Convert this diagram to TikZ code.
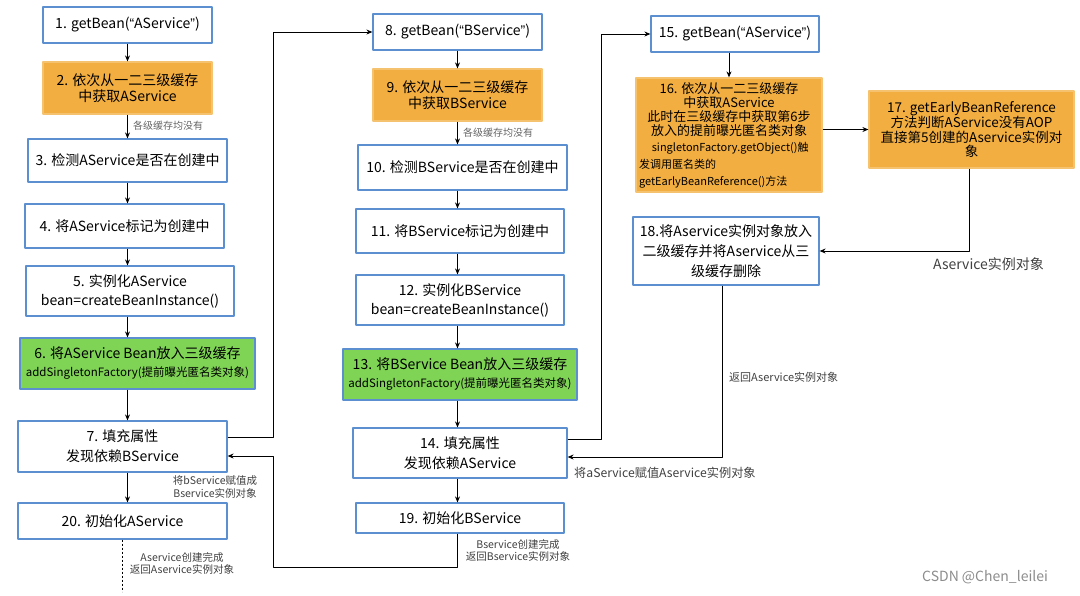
\documentclass[tikz,border=0pt]{standalone}
\usepackage{fontspec}
\setmainfont{Noto Sans CJK SC}
\newfontfamily\quotefont{Liberation Sans}
\newcommand{\qopen}{{\quotefont “}}
\newcommand{\qclose}{{\quotefont ”}}
\usetikzlibrary{arrows.meta}
\definecolor{boxblue}{HTML}{5B8FCF}
\definecolor{cacheorange}{HTML}{F2AE40}
\definecolor{beangreen}{HTML}{7FD355}
\begin{document}
\begin{tikzpicture}[x=1pt, y=-1pt, line join=round, >={Stealth[length=6pt,width=5pt]},
	font=\fontsize{14}{18}\selectfont,
	box/.style={draw=boxblue, line width=1.2pt, fill=white, align=center, inner sep=1pt},
	obox/.style={box, draw=cacheorange!75!white, fill=cacheorange},
	gbox/.style={box, fill=beangreen},
	lbl/.style={font=\fontsize{10}{12}\selectfont, text=black!75, align=center, inner sep=0pt},
	link/.style={line width=1pt}]
	
	\useasboundingbox (0,0) rectangle (1080,595);
	
	% getBean("AService")
	\node[box, minimum width=169pt, minimum height=36pt] (n1) at (127.5,25) {1. getBean(\qopen AService\qclose)};
	\node[obox, minimum width=169pt, minimum height=52pt, font=\fontsize{14}{16}\selectfont] (n2) at (127.5,88) {2. 依次从一二三级缓存\\中获取AService};
	\node[box, minimum width=199pt, minimum height=43pt] (n3) at (127.5,160.5) {3. 检测AService是否在创建中};
	\node[box, minimum width=199pt, minimum height=44pt] (n4) at (124.5,226) {4. 将AService标记为创建中};
	\node[box, minimum width=208pt, minimum height=50pt, font=\fontsize{14}{19}\selectfont] (n5) at (130,291) {5. 实例化AService\\bean=createBeanInstance()};
	\node[gbox, minimum width=235pt, minimum height=51pt] (n6) at (137.5,363.5) {6. 将AService Bean放入三级缓存\\{\fontsize{11.5}{14}\selectfont addSingletonFactory(提前曝光匿名类对象)}};
	\node[box, minimum width=209pt, minimum height=51pt, font=\fontsize{14}{20}\selectfont] (n7) at (122.5,446.5) {7. 填充属性\\发现依赖BService};
	\node[box, minimum width=209pt, minimum height=36pt] (n20) at (122.5,521) {20. 初始化AService};
	
	% getBean("BService")
	\node[box, minimum width=169pt, minimum height=36pt] (n8) at (457.5,32) {8. getBean(\qopen BService\qclose)};
	\node[obox, minimum width=169pt, minimum height=52pt, font=\fontsize{14}{16}\selectfont] (n9) at (457.5,95) {9. 依次从一二三级缓存\\中获取BService};
	\node[box, minimum width=209pt, minimum height=45pt] (n10) at (462.5,167.5) {10. 检测BService是否在创建中};
	\node[box, minimum width=208pt, minimum height=44pt] (n11) at (460,231) {11. 将BService标记为创建中};
	\node[box, minimum width=208pt, minimum height=50pt, font=\fontsize{14}{19}\selectfont] (n12) at (460,300) {12. 实例化BService\\bean=createBeanInstance()};
	\node[gbox, minimum width=234pt, minimum height=51pt] (n13) at (460,374.5) {13. 将BService Bean放入三级缓存\\{\fontsize{11.5}{14}\selectfont addSingletonFactory(提前曝光匿名类对象)}};
	\node[box, minimum width=214pt, minimum height=50pt, font=\fontsize{14}{20}\selectfont] (n14) at (460,453) {14. 填充属性\\发现依赖AService};
	\node[box, minimum width=208pt, minimum height=30pt] (n19) at (460,518) {19. 初始化BService};
	
	% getBean("AService") again
	\node[box, minimum width=168pt, minimum height=36pt] (n15) at (735,34) {15. getBean(\qopen AService\qclose)};
	\node[obox, minimum width=186pt, minimum height=114pt, font=\fontsize{13}{14}\selectfont] (n16) at (729,135) {16. 依次从一二三级缓存\\中获取AService\\此时在三级缓存中获取第6步\\放入的提前曝光匿名类对象\\[2pt]
		{\fontsize{11}{14}\selectfont\ singletonFactory.getObject()触}\\[3pt]
		\makebox[180pt][l]{\fontsize{11}{14}\selectfont 发调用匿名类的}\\[3pt]
		\makebox[180pt][l]{\fontsize{11}{14}\selectfont getEarlyBeanReference()方法}};
	\node[obox, minimum width=205pt, minimum height=77pt, font=\fontsize{13.5}{14.5}\selectfont] (n17) at (971.5,129.5) {17. getEarlyBeanReference\\方法判断AService没有AOP\\直接第5创建的Aservice实例对\\象};
	\node[box, minimum width=186pt, minimum height=68pt, font=\fontsize{14}{20}\selectfont] (n18) at (726,251) {18.将Aservice实例对象放入\\二级缓存并将Aservice从三\\级缓存删除};
	
	% straight steps
	\foreach \a/\b in {n1/n2, n2/n3, n3/n4, n4/n5, n5/n6, n6/n7, n7/n20}
	\draw[link, ->] (\a.south -| n1) -- (\b.north -| n1);
	\foreach \a/\b in {n8/n9, n9/n10, n10/n11, n11/n12, n12/n13, n13/n14, n14/n19}
	\draw[link, ->] (\a.south -| n8) -- (\b.north -| n8);
	\draw[link, ->] (n15.south -| n16) -- (n16.north);
	
	% jumps between the columns
	\draw[link, ->] ([yshift=9.5pt]n7.east) -- ++(46,0) |- (n8.west);
	\draw[link, ->] ([yshift=14pt]n14.east) -- ++(34,0) |- (n15.west);
	\draw[link, ->] (n16.east |- n17) -- (n17.west);
	\draw[link, ->] ([xshift=-2.5pt]n17.south) |- (n18.east);
	\draw[link, ->] ([xshift=-4pt]n18.south) |- ([yshift=-4pt]n14.east);
	\coordinate (bback) at (273,567);
	\draw[link, ->] ([xshift=-3pt]n19.south) |- (bback) |- ([yshift=-9.5pt]n7.east);
	\draw[link, dashed, dash pattern=on 2pt off 2pt] (n20.south) -- ([yshift=-52pt]n20.south);
	
	% labels
	\node[lbl, anchor=west, text=black!60] (l1) at (133,126) {各级缓存均没有};
	\node[lbl, anchor=west, text=black!60] (l2) at (463,133) {各级缓存均没有};
	\node[lbl, font=\fontsize{10.5}{13}\selectfont] (l3) at (215,487) {将bService赋值成\\Bservice实例对象};
	\node[lbl, font=\fontsize{10.5}{12}\selectfont] (l4) at (182,563) {Aservice创建完成\\返回Aservice实例对象};
	\node[lbl, font=\fontsize{10.5}{12}\selectfont] (l5) at (518,550) {Bservice创建完成\\返回Bservice实例对象};
	\node[lbl, anchor=west, font=\fontsize{11}{13}\selectfont] (l6) at (729,377) {返回Aservice实例对象};
	\node[lbl, anchor=west, font=\fontsize{12.2}{14}\selectfont] (l7) at (574,473) {将aService赋值Aservice实例对象};
	\node[lbl, anchor=west, font=\fontsize{14}{16}\selectfont] (l8) at (933,264) {Aservice实例对象};
	\node[lbl, anchor=west, text=black!45, font=\fontsize{14}{16}\selectfont] (mark) at (922,577) {CSDN @Chen\_leilei};
\end{tikzpicture}
\end{document}
